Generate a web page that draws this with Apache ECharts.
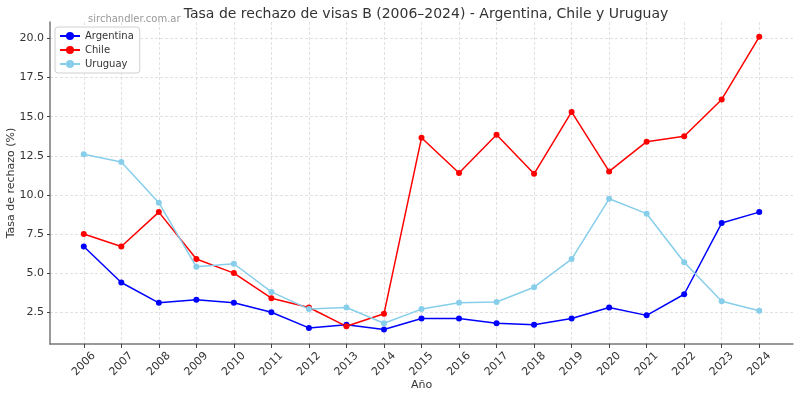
<!DOCTYPE html>
<html>
<head>
<meta charset="utf-8">
<script src="https://cdn.jsdelivr.net/npm/echarts@6/dist/echarts.min.js"></script>
<style>
  html, body {margin:0; padding:0; background:#fff;}
  #chart {width:800px; height:397px;}
</style>
</head>
<body>
<div id="chart"></div>
<script>
// datos
const years = [2006,2007,2008,2009,2010,2011,2012,2013,2014,2015,2016,2017,2018,2019,2020,2021,2022,2023,2024]
const argentina = [6.7,4.4,3.1,3.3,3.1,2.5,1.5,1.7,1.4,2.1,2.1,1.8,1.7,2.1,2.8,2.3,3.65,8.2,8.9]
const chile = [7.5,6.7,8.9,5.9,5.0,3.4,2.8,1.6,2.4,13.65,11.4,13.85,11.35,15.3,11.5,13.4,13.75,16.1,20.1]
const uruguay = [12.6,12.1,9.5,5.4,5.6,3.8,2.7,2.8,1.8,2.7,3.1,3.15,4.1,5.9,9.75,8.8,5.7,3.2,2.6]
const yTicks = [2.5,5.0,7.5,10.0,12.5,15.0,17.5,20.0]

const font = 'DejaVu Sans'
const pairs = (arr)=>years.map((y, i)=>[y, arr[i]])

function serie(name, data, color){
  return {
    name: name,
    type: 'line',
    data: pairs(data),
    symbol: 'circle',
    symbolSize: 6,
    lineStyle: {width: 1.5, color: color},
    itemStyle: {color: color},
    emphasis: {disabled: true},
    animation: false
  }
}

let chart = echarts.init(document.getElementById('chart'))
chart.setOption({
  backgroundColor: '#fff',
  textStyle: {fontFamily: font},
  title: [
    {
      text: 'Tasa de rechazo de visas B (2006–2024) - Argentina, Chile y Uruguay',
      left: 421, top: 2, textAlign: 'center',
      textStyle: {fontFamily: font, fontSize: 14, fontWeight: 'normal', color: '#333'}
    },
    {
      text: 'sirchandler.com.ar',
      left: 83, top: 9,
      textStyle: {fontFamily: font, fontSize: 10, fontWeight: 'normal', color: '#999'}
    }
  ],
  legend: {
    orient: 'vertical',
    left: 55, top: 27,
    padding: [4, 6, 4, 4],
    itemGap: 4,
    itemWidth: 20,
    itemHeight: 10,
    backgroundColor: '#fff',
    borderColor: '#d0d0d0',
    borderWidth: 1,
    borderRadius: 3,
    textStyle: {fontFamily: font, fontSize: 10, color: '#333'},
    data: ['Argentina', 'Chile', 'Uruguay']
  },
  grid: {left: 50, right: 7, top: 22, bottom: 53, containLabel: false, outerBoundsMode: 'none'},
  xAxis: {
    type: 'value',
    min: 2005.1,
    max: 2024.9,
    name: 'Año',
    nameLocation: 'middle',
    nameGap: 36,
    nameMoveOverlap: false,
    nameTextStyle: {fontFamily: font, fontSize: 11, color: '#333'},
    axisLine: {lineStyle: {color: '#777', width: 1.5}},
    axisTick: {show: true, customValues: years, length: 4, lineStyle: {color: '#444'}},
    axisLabel: {
      customValues: years,
      rotate: 45, margin: 20,
      align: 'center', verticalAlign: 'middle',
      fontFamily: font, fontSize: 11, color: '#333',
      formatter: (v)=>String(v)
    },
    splitLine: {show: true, lineStyle: {type: [3, 2], color: '#d9d9d9', width: 0.8}}
  },
  yAxis: {
    type: 'value',
    min: 0.47,
    max: 21.05,
    name: 'Tasa de rechazo (%)',
    nameLocation: 'middle',
    nameGap: 33,
    nameMoveOverlap: false,
    nameTextStyle: {fontFamily: font, fontSize: 11, color: '#333'},
    axisLine: {show: true, lineStyle: {color: '#777', width: 1.5}},
    axisTick: {show: true, customValues: yTicks, length: 3, lineStyle: {color: '#444'}},
    axisLabel: {
      customValues: yTicks,
      margin: 6,
      fontFamily: font, fontSize: 11, color: '#333',
      formatter: (v)=>v.toFixed(1)
    },
    splitLine: {show: true, lineStyle: {type: [3, 2], color: '#d9d9d9', width: 0.8}}
  },
  series: [
    serie('Argentina', argentina, '#0000ff'),
    serie('Chile', chile, '#ff0000'),
    serie('Uruguay', uruguay, '#87ceeb')
  ]
})
</script>
</body>
</html>
